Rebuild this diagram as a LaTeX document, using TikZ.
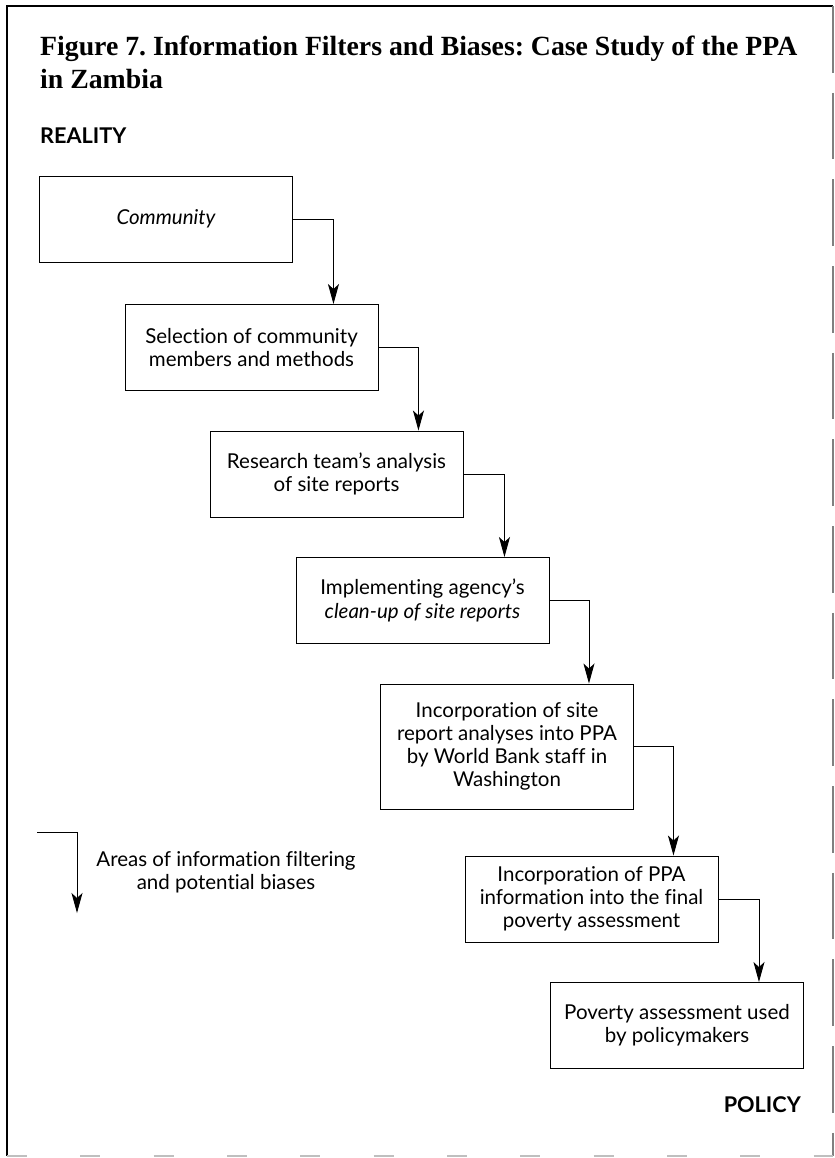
\documentclass[tikz,border=0pt]{standalone}
\usepackage{fontspec}
\newfontfamily\bodyfont{Lato}[Ligatures=NoCommon]
\newfontfamily\titlefont{Liberation Serif}
\usetikzlibrary{arrows.meta,positioning}
\frenchspacing
\tikzset{
  stage/.style={draw, line width=0.8pt, minimum width=75.9mm, minimum height=25.8mm,
    inner sep=0pt, align=center, font=\bodyfont\fontsize{17.5}{19.8}\selectfont},
  flow/.style={line width=0.8pt, -{Stealth[length=6mm,width=3.3mm,inset=1.5mm]}},
  headword/.style={inner sep=0pt, font=\bodyfont\bfseries\fontsize{18.5}{20}\selectfont},
  titleline/.style={inner sep=0pt, anchor=base west, font=\titlefont\bfseries\fontsize{23.7}{28}\selectfont},
}
\begin{document}
\begin{tikzpicture}[x=0.3mm, y=-0.3mm]
    \useasboundingbox (0,0) rectangle (835,1158);
    % page frame
    \draw[line width=1pt] (7,1156) -- (7,6) -- (833,6);
    \draw[line width=1pt, gray, dash pattern=on 20mm off 6mm] (833,6) -- (833,1156);
    \draw[line width=1pt, gray!50, dash pattern=on 6mm off 16mm] (7,1156) -- (833,1156);

    \node[titleline] (title) at (40,55) {Figure 7. Information Filters and Biases: Case Study of the PPA};
    \node[titleline] (title2) at (40,88) {in Zambia};
    \node[headword, anchor=base west] (reality) at (40,143) {REALITY};

    \node[stage] (community) at (166,219) {\itshape Community};
    \node[stage] (select) at (251.5,347.5) {Selection of community\\members and methods};
    \node[stage] (research) at (336.5,474) {Research team’s analysis\\of site reports};
    \node[stage] (cleanup) at (422.5,600.5) {Implementing agency’s\\\itshape clean-up of site reports};
    \node[stage, minimum height=37.5mm] (washington) at (507,746.5) {Incorporation of site\\report analyses into PPA\\by World Bank staff in\\Washington};
    \node[stage] (final) at (591.5,899) {Incorporation of PPA\\information into the final\\poverty assessment};
    \node[stage] (used) at (677,1025.5) {Poverty assessment used\\by policymakers};

    \draw[flow] (community.east) -| ([xshift=-13.5mm]select.north east);
    \draw[flow] (select.east) -| ([xshift=-13.5mm]research.north east);
    \draw[flow] (research.east) -| ([xshift=-13.5mm]cleanup.north east);
    \draw[flow] (cleanup.east) -| ([xshift=-13.5mm]washington.north east);
    \draw[flow] (washington.east) -| ([xshift=-13.5mm]final.north east);
    \draw[flow] (final.east) -| ([xshift=-13.5mm]used.north east);

    % legend
    \coordinate (legstart) at (37,832);
    \coordinate (legtip) at (77,913);
    \draw[flow] (legstart) -| (legtip);
    \node[align=center, font=\bodyfont\fontsize{17.5}{19.8}\selectfont] (legend) at (226,872) {Areas of information filtering\\and potential biases};

    \node[headword, anchor=base east] (policy) at (801,1112) {POLICY};
\end{tikzpicture}
\end{document}
